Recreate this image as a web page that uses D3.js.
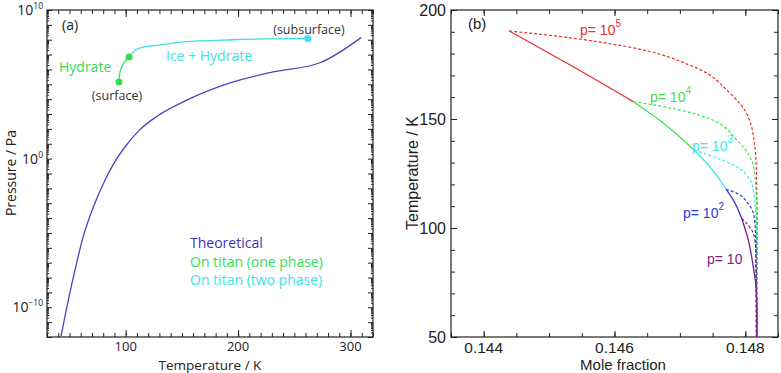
<!DOCTYPE html>
<html>
<head>
<meta charset="utf-8">
<script src="https://cdn.jsdelivr.net/npm/d3@7"></script>
<style>
  body { margin: 0; background: #fff; }
  svg { display: block; }
</style>
</head>
<body>
<script>
// ---- panel (a): pressure vs temperature (pressures as log10 Pa) ----
var theoT    = [42.5, 47.6, 54.9, 62, 71, 80, 90, 100, 112, 127.8, 154.5, 192.8, 231, 272.9, 309.4];
var theoLogP = [-11.94, -10, -7.5, -5.3, -3.3, -1.7, -0.25, 0.85, 1.9, 2.85, 3.94, 5.09, 5.83, 6.45, 8.14];

var hydT    = [94, 95, 98.1, 103];
var hydLogP = [5.15, 5.85, 6.41, 6.84];

var iceT    = [103, 108.9, 115.5, 129.9, 151, 195.5, 262];
var iceLogP = [6.84, 7.31, 7.5, 7.64, 7.85, 8.0, 8.09];

var markT    = [94, 103, 262];
var markLogP = [5.15, 6.84, 8.09];

var legendA = ["Theoretical", "On titan (one phase)", "On titan (two phase)"];

// ---- panel (b): temperature vs mole fraction ----
var pExp = [5, 4, 3, 2, 1];
// solid (equilibrium) branch, one piece per pressure
var solidX = [
  [0.14439, 0.14535, 0.14629],
  [0.14629, 0.14675, 0.147216],
  [0.147216, 0.14746, 0.147705],
  [0.147705, 0.147817, 0.147945],
  [0.147945, 0.148046, 0.148122, 0.148164, 0.14818, 0.14818]
];
var solidT = [
  [190.4, 174.3, 157.9],
  [157.9, 148, 135.8],
  [135.8, 128.1, 117.8],
  [117.8, 112.8, 104.4],
  [104.4, 94.5, 82.2, 73, 60, 50]
];
// dashed branches
var dashX = [
  [0.14439, 0.14517, 0.146186, 0.147205, 0.147766, 0.147992, 0.148133, 0.14817, 0.14818, 0.14818],
  [0.14629, 0.146696, 0.147, 0.14746, 0.14787, 0.14807, 0.14815, 0.14817, 0.14818],
  [0.147216, 0.147512, 0.14787, 0.14804, 0.148122, 0.14816, 0.14817],
  [0.147705, 0.14787, 0.14804, 0.14813, 0.14816, 0.14817],
  [0.147945, 0.14804, 0.148122, 0.14816, 0.14817]
];
var dashT = [
  [190.4, 187.8, 183.2, 174, 161.8, 154, 140.4, 125, 100, 50],
  [157.9, 156, 154.1, 150, 140.4, 132.7, 123.5, 110, 50],
  [135.8, 132.7, 128.1, 123.5, 117.4, 105, 50],
  [117.8, 115.9, 111.3, 105.9, 95, 50],
  [104.4, 101.4, 97.6, 90, 50]
];

var W = 781, H = 373;
var svg = d3.select("body").append("svg").attr("width", W).attr("height", H);

// ======================= panel (a) =======================
var fa = "'Open Sans', sans-serif";
var xA = d3.scaleLinear().domain([30, 320]).range([47, 373]);
var yA = d3.scaleLog().domain([1e-12, 1e10]).range([337, 10]);

var ga = svg.append("g").attr("font-family", fa);

function tickAxis(g, axis, tr) {
  var a = g.append("g").attr("transform", tr).call(axis.tickFormat(""));
  a.select(".domain").remove();
  a.selectAll("line").attr("stroke", "#222");
}

var minorTa = d3.range(30, 321, 10);
var majorTa = [100, 200, 300];
tickAxis(ga, d3.axisBottom(xA).tickValues(minorTa).tickSize(-4), "translate(0,337)");
tickAxis(ga, d3.axisTop(xA).tickValues(minorTa).tickSize(-4), "translate(0,10)");
tickAxis(ga, d3.axisBottom(xA).tickValues(majorTa).tickSize(-7), "translate(0,337)");
tickAxis(ga, d3.axisTop(xA).tickValues(majorTa).tickSize(-7), "translate(0,10)");

var decades = d3.range(-12, 11).map(function (e) { return Math.pow(10, e); });
var minorP = [];
d3.range(-12, 10).forEach(function (e) {
  for (var m = 2; m < 10; m++) minorP.push(m * Math.pow(10, e));
});
tickAxis(ga, d3.axisLeft(yA).tickValues(decades).tickSize(-5), "translate(47,0)");
tickAxis(ga, d3.axisRight(yA).tickValues(decades).tickSize(-5), "translate(373,0)");
tickAxis(ga, d3.axisLeft(yA).tickValues(minorP).tickSize(-2), "translate(47,0)");
tickAxis(ga, d3.axisRight(yA).tickValues(minorP).tickSize(-2), "translate(373,0)");

ga.append("rect").attr("x", 47).attr("y", 10).attr("width", 326).attr("height", 327)
  .attr("fill", "none").attr("stroke", "#222").attr("stroke-width", 1.2);

// tick labels
majorTa.forEach(function (t) {
  ga.append("text").attr("x", xA(t)).attr("y", 351).attr("text-anchor", "middle")
    .attr("font-size", 13).attr("fill", "#222").text(t);
});
[-10, 0, 10].forEach(function (e) {
  var t = ga.append("text").attr("x", 43).attr("y", yA(Math.pow(10, e)) + 5)
    .attr("text-anchor", "end").attr("font-size", 14).attr("fill", "#222");
  t.append("tspan").text("10");
  t.append("tspan").attr("font-size", 8.5).attr("dy", -6).text(e < 0 ? "\u2212" + (-e) : e);
});
ga.append("text").attr("x", xA(175)).attr("y", 369.5).attr("text-anchor", "middle")
  .attr("font-size", 13.5).attr("fill", "#222").text("Temperature / K");
ga.append("text").attr("transform", "translate(16,173) rotate(-90)").attr("text-anchor", "middle")
  .attr("font-size", 14).attr("fill", "#222").text("Pressure / Pa");

var lineA = d3.line()
  .x(function (d) { return xA(d[0]); })
  .y(function (d) { return yA(Math.pow(10, d[1])); })
  .curve(d3.curveMonotoneX);

ga.append("path").datum(d3.zip(theoT, theoLogP)).attr("d", lineA)
  .attr("fill", "none").attr("stroke", "#4a44c4").attr("stroke-width", 1.3);
ga.append("path").datum(d3.zip(iceT, iceLogP)).attr("d", lineA)
  .attr("fill", "none").attr("stroke", "#3de0ec").attr("stroke-width", 1.3);
ga.append("path").datum(d3.zip(hydT, hydLogP))
  .attr("d", lineA.curve(d3.curveMonotoneY))
  .attr("fill", "none").attr("stroke", "#33dd55").attr("stroke-width", 1.3);

var markCol = ["#33dd55", "#33dd55", "#3de0ec"];
ga.selectAll(".mk").data(d3.zip(markT, markLogP)).enter().append("circle")
  .attr("cx", function (d) { return xA(d[0]); })
  .attr("cy", function (d) { return yA(Math.pow(10, d[1])); })
  .attr("r", 3.5)
  .attr("fill", function (d, i) { return markCol[i]; });

ga.append("text").attr("x", 62).attr("y", 30).attr("font-size", 14).attr("fill", "#222").text("(a)");
ga.append("text").attr("x", 309).attr("y", 34).attr("text-anchor", "middle")
  .attr("font-size", 12.5).attr("fill", "#333").text("(subsurface)");
ga.append("text").attr("x", 117).attr("y", 100).attr("text-anchor", "middle")
  .attr("font-size", 12.5).attr("fill", "#333").text("(surface)");
ga.append("text").attr("x", 59).attr("y", 72).attr("font-size", 14).attr("fill", "#33dd55").text("Hydrate");
ga.append("text").attr("x", 166).attr("y", 61).attr("font-size", 14).attr("fill", "#3de0ec").text("Ice + Hydrate");

var legCol = ["#3b33b8", "#33dd55", "#3de0ec"];
legendA.forEach(function (s, i) {
  ga.append("text").attr("x", 190).attr("y", 248 + i * 18.5)
    .attr("font-size", 14).attr("fill", legCol[i]).text(s);
});

// ======================= panel (b) =======================
var fb = "'Liberation Sans', Arial, sans-serif";
var xB = d3.scaleLinear().domain([0.1435, 0.1485]).range([451, 778]);
var yB = d3.scaleLinear().domain([50, 200]).range([337, 10]);
var gb = svg.append("g").attr("font-family", fb);

var minorXb = d3.range(0, 11).map(function (i) { return 0.1435 + i * 0.0005; });
var majorXb = [0.144, 0.146, 0.148];
var minorYb = d3.range(50, 201, 10);
var majorYb = [50, 100, 150, 200];
tickAxis(gb, d3.axisBottom(xB).tickValues(minorXb).tickSize(-4), "translate(0,337)");
tickAxis(gb, d3.axisTop(xB).tickValues(minorXb).tickSize(-4), "translate(0,10)");
tickAxis(gb, d3.axisBottom(xB).tickValues(majorXb).tickSize(-6), "translate(0,337)");
tickAxis(gb, d3.axisTop(xB).tickValues(majorXb).tickSize(-6), "translate(0,10)");
tickAxis(gb, d3.axisLeft(yB).tickValues(minorYb).tickSize(-4), "translate(451,0)");
tickAxis(gb, d3.axisRight(yB).tickValues(minorYb).tickSize(-4), "translate(778,0)");
tickAxis(gb, d3.axisLeft(yB).tickValues(majorYb).tickSize(-6), "translate(451,0)");
tickAxis(gb, d3.axisRight(yB).tickValues(majorYb).tickSize(-6), "translate(778,0)");

gb.append("rect").attr("x", 451).attr("y", 10).attr("width", 327).attr("height", 327)
  .attr("fill", "none").attr("stroke", "#222").attr("stroke-width", 1.2);

majorXb.forEach(function (v) {
  gb.append("text").attr("x", xB(v)).attr("y", 353).attr("text-anchor", "middle")
    .attr("font-size", 15.5).attr("fill", "#222").text(d3.format(".3f")(v));
});
majorYb.forEach(function (v) {
  gb.append("text").attr("x", 446).attr("y", yB(v) + 6).attr("text-anchor", "end")
    .attr("font-size", 16).attr("fill", "#222").text(v);
});
gb.append("text").attr("x", 623).attr("y", 370).attr("text-anchor", "middle")
  .attr("font-size", 15).attr("fill", "#222").text("Mole fraction");
gb.append("text").attr("transform", "translate(418,173) rotate(-90)").attr("text-anchor", "middle")
  .attr("font-size", 16).attr("fill", "#222").text("Temperature / K");
gb.append("text").attr("x", 468).attr("y", 29).attr("font-size", 15).attr("fill", "#222").text("(b)");

var pCol = ["#e8302c", "#3ee24a", "#3ee8ee", "#2e3ad8", "#7a2088"];
var lineB = d3.line()
  .x(function (d) { return xB(d[0]); })
  .y(function (d) { return yB(d[1]); })
  .curve(d3.curveMonotoneY);

pExp.forEach(function (e, i) {
  gb.append("path").datum(d3.zip(dashX[i], dashT[i])).attr("d", lineB)
    .attr("fill", "none").attr("stroke", pCol[i]).attr("stroke-width", 1.2)
    .attr("stroke-dasharray", "3,2");
});
pExp.forEach(function (e, i) {
  gb.append("path").datum(d3.zip(solidX[i], solidT[i])).attr("d", lineB)
    .attr("fill", "none").attr("stroke", pCol[i]).attr("stroke-width", 1.3);
});

// pressure labels
var labX = [580, 650, 692, 683, 707];
var labY = [35, 102, 151, 218, 264];
pExp.forEach(function (e, i) {
  var t = gb.append("text").attr("x", labX[i]).attr("y", labY[i])
    .attr("font-size", 14).attr("fill", pCol[i]);
  t.append("tspan").text("p= 10");
  if (e > 1) t.append("tspan").attr("font-size", 10).attr("dy", -8).text(e);
});
</script>
</body>
</html>
